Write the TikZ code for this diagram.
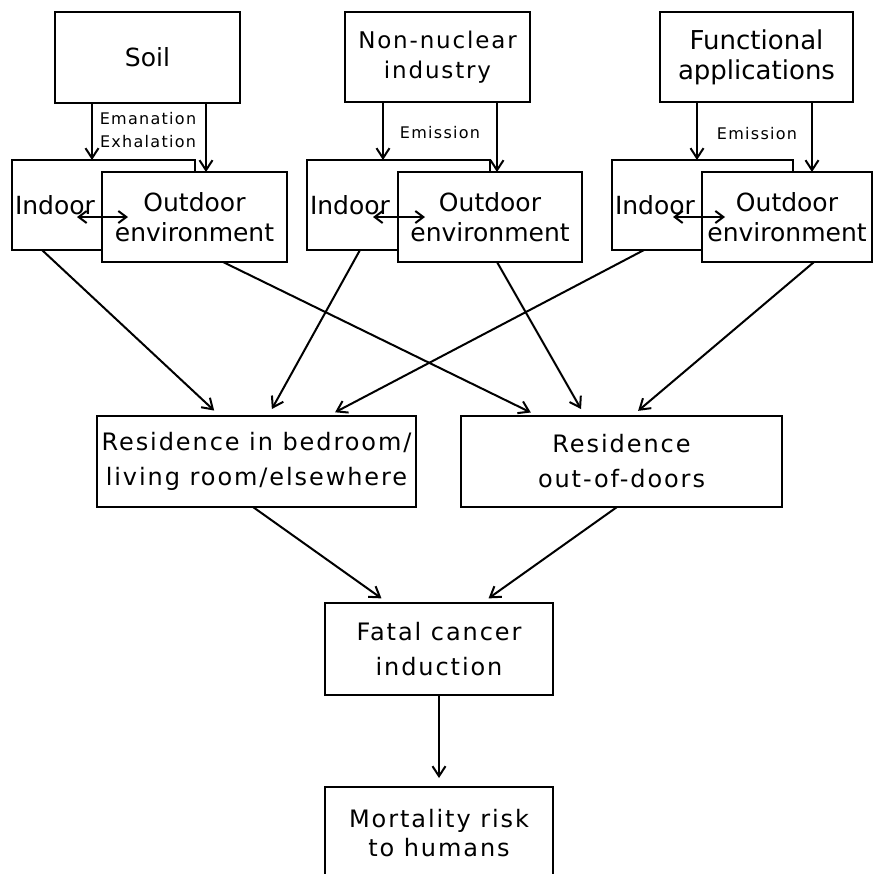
\documentclass[tikz,border=0pt]{standalone}
\usepackage{fontspec}
\setmainfont{DejaVu Sans}
\newfontfamily\wide[LetterSpace=8]{DejaVu Sans}
\usepackage{tikz}
\usetikzlibrary{arrows.meta}

\begin{document}
\begin{tikzpicture}[x=1pt, y=-1pt,
	textbox/.style={draw, fill=white, line width=2.6, inner sep=0, outer sep=0, align=center, font=\fontsize{25}{30}\selectfont},
	inbox/.style={textbox, minimum width=183, minimum height=90, text width=177, inner xsep=3, align=left},
	outbox/.style={textbox, minimum width=185, minimum height=90},
	lowbox/.style={textbox, minimum height=91, font=\wide\fontsize{24}{35}\selectfont},
	note/.style={inner sep=0, align=center, font=\wide\fontsize{16}{23}\selectfont},
	arr/.style={line width=2, -{Straight Barb[length=10pt,width=13pt,line width=2pt]}},
	both/.style={line width=2, {Straight Barb[length=8pt,width=12pt,line width=2pt]}-{Straight Barb[length=8pt,width=12pt,line width=2pt]}}
]
\useasboundingbox (0,0) rectangle (874,873);
\clip (0,0) rectangle (874,873);
%sources
\node[textbox, minimum width=185, minimum height=91] (src1) at (147.5,57.5) {Soil};
\node[textbox, minimum width=185, minimum height=90, font=\wide\fontsize{23}{30}\selectfont] (src2) at (437.5,57) {Non-nuclear\\industry};
\node[textbox, minimum width=193, minimum height=90, font=\fontsize{26}{30}\selectfont] (src3) at (756.5,57) {Functional\\applications};
%environments
\node[inbox] (in1) at (103.5,205) {Indoor};
\node[outbox] (out1) at (194.5,217) {Outdoor\\environment};
\node[inbox] (in2) at (398.5,205) {Indoor};
\node[outbox, minimum width=184] (out2) at (490,217) {Outdoor\\environment};
\node[inbox, minimum width=181, text width=175] (in3) at (702.5,205) {Indoor};
\node[outbox, minimum width=170] (out3) at (787,217) {Outdoor\\environment};
%residence, effect
\node[lowbox, minimum width=319] (res1) at (256.5,461.5) {Residence in bedroom/\\living room/elsewhere};
\node[lowbox, minimum width=321] (res2) at (621.5,461.5) {Residence\\out-of-doors};
\node[lowbox, minimum width=228, minimum height=92] (fat) at (439,649) {Fatal cancer\\induction};
\node[lowbox, minimum width=228, minimum height=93, font=\wide\fontsize{24}{29}\selectfont] (mort) at (439,833.5) {Mortality risk\\to humans};
%pathway labels
\node[note] (lab1) at (148,130) {Emanation\\Exhalation};
\node[note] (lab2) at (440,133) {Emission};
\node[note] (lab3) at (757,134) {Emission};
%release
\draw[arr] ([xshift=37pt]src1.south west) -- ([xshift=80pt]in1.north west);
\draw[arr] ([xshift=-34pt]src1.south east) -- ([xshift=104pt]out1.north west);
\draw[arr] ([xshift=38pt]src2.south west) -- ([xshift=76pt]in2.north west);
\draw[arr] ([xshift=-33pt]src2.south east) -- ([xshift=99pt]out2.north west);
\draw[arr] ([xshift=37pt]src3.south west) -- ([xshift=85pt]in3.north west);
\draw[arr] ([xshift=-41pt]src3.south east) -- ([xshift=110pt]out3.north west);
%exchange
\draw[both] ([xshift=65pt,yshift=-12pt]in1.west) -- ([xshift=26pt]out1.west);
\draw[both] ([xshift=66pt,yshift=-12pt]in2.west) -- ([xshift=27pt]out2.west);
\draw[both] ([xshift=61pt,yshift=-12pt]in3.west) -- ([xshift=23pt]out3.west);
%exposure
\draw[arr, shorten >=8pt] ([xshift=30pt]in1.south west) -- ([xshift=123pt]res1.north west);
\draw[arr, shorten >=8pt] ([xshift=53pt]in2.south west) -- ([xshift=171pt]res1.north west);
\draw[arr, shorten >=8pt] ([xshift=32pt]in3.south west) -- ([xshift=231pt]res1.north west);
\draw[arr, shorten >=8pt] ([xshift=121pt]out1.south west) -- ([xshift=77pt]res2.north west);
\draw[arr, shorten >=8pt] ([xshift=99pt]out2.south west) -- ([xshift=124pt]res2.north west);
\draw[arr, shorten >=8pt] ([xshift=112pt]out3.south west) -- ([xshift=171pt]res2.north west);
\draw[arr, shorten >=8pt] ([xshift=156pt]res1.south west) -- ([xshift=63pt]fat.north west);
\draw[arr, shorten >=8pt] ([xshift=156pt]res2.south west) -- ([xshift=157pt]fat.north west);
\draw[arr, shorten >=9pt] (fat) -- (mort);
\end{tikzpicture}
\end{document}
